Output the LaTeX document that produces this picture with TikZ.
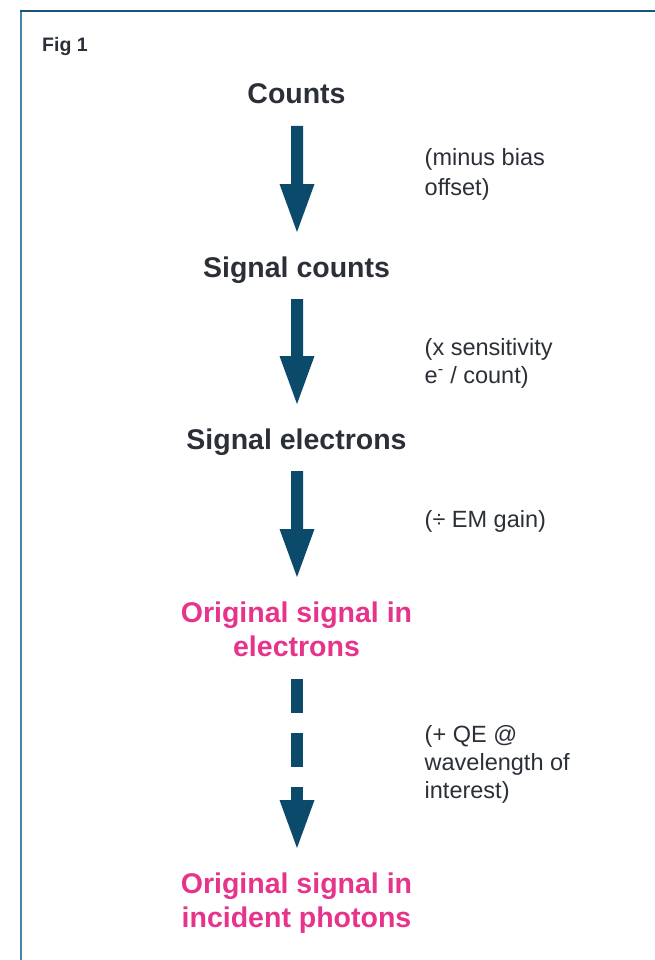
\documentclass[tikz,border=0pt]{standalone}
\usepackage{fontspec}
\setmainfont{Liberation Sans}
\usetikzlibrary{calc}
\definecolor{txtc}{HTML}{2B2F38}
\definecolor{pinkc}{HTML}{E6338B}
\definecolor{arrowc}{HTML}{0C4A6B}
\definecolor{topc}{HTML}{17557E}
\definecolor{leftc}{HTML}{4A82AC}
\tikzset{
  steplabel/.style={inner sep=0pt, anchor=base, text=txtc, font=\bfseries\fontsize{28.5}{34}\selectfont},
  pinklabel/.style={inner sep=0pt, anchor=base, text=pinkc, font=\bfseries\fontsize{28.5}{34}\selectfont},
  notelabel/.style={inner sep=0pt, anchor=base west, text=txtc, font=\fontsize{23.5}{28.5}\selectfont},
  figlabel/.style={inner sep=0pt, anchor=base west, text=txtc, font=\bfseries\fontsize{19.5}{23}\selectfont},
  blockarrow/.style={to path={
    let \p1=(\tikztostart), \p2=(\tikztotarget) in
    (\x1-6pt,\y1) -- (\x1+6pt,\y1) -- (\x1+6pt,\y2+48pt) -- (\x1+17.5pt,\y2+48pt)
    -- (\x2,\y2) -- (\x1-17.5pt,\y2+48pt) -- (\x1-6pt,\y2+48pt) -- cycle}},
  dashshaft/.style={draw=arrowc, line width=12pt, dash pattern=on 33.5pt off 20.5pt}
}
\begin{document}
\begin{tikzpicture}[x=1pt,y=1pt]
\useasboundingbox (0,0) rectangle (655,-960);
% frame
\draw[leftc, line width=2pt] (21,-960) -- (21,-11.5);
\draw[topc, line width=2pt] (20,-11.5) -- (655,-11.5);

\node[figlabel] (fig) at (42,-52) {Fig 1};

\node[steplabel] (counts) at (296.5,-104) {Counts};
\node[steplabel] (sigcounts) at (296.5,-277) {Signal counts};
\node[steplabel] (sigel) at (296.5,-449) {Signal electrons};
\node[pinklabel] (orig1a) at (296.5,-622) {Original signal in};
\node[pinklabel] (orig1b) at (296.5,-656) {electrons};
\node[pinklabel] (orig2a) at (296.5,-893) {Original signal in};
\node[pinklabel] (orig2b) at (296.5,-927) {incident photons};

\node[notelabel] (n1a) at (424.5,-166) {(minus bias};
\node[notelabel] (n1b) at (424.5,-195) {offset)};
\node[notelabel] (n2a) at (424.5,-355) {(x sensitivity};
\node[notelabel] (n2b) at (424.5,-383.5) {e\textsuperscript{-} / count)};
\node[notelabel] (n3) at (424.5,-527) {(÷ EM gain)};
\node[notelabel] (n4a) at (424.5,-742) {(+ QE @};
\node[notelabel] (n4b) at (424.5,-770) {wavelength of};
\node[notelabel] (n4c) at (424.5,-798) {interest)};

% arrows
\coordinate (a1s) at ($(counts.base)+(0.5,-22)$);
\coordinate (a1t) at ($(sigcounts.base)+(0.5,45)$);
\coordinate (a2s) at ($(sigcounts.base)+(0.5,-22)$);
\coordinate (a2t) at ($(sigel.base)+(0.5,45)$);
\coordinate (a3s) at ($(sigel.base)+(0.5,-22)$);
\coordinate (a3t) at ($(orig1a.base)+(0.5,45)$);
\coordinate (a4s) at ($(orig1b.base)+(0.5,-23)$);
\coordinate (a4t) at ($(orig2a.base)+(0.5,45)$);

\fill[arrowc] (a1s) to[blockarrow] (a1t);
\fill[arrowc] (a2s) to[blockarrow] (a2t);
\fill[arrowc] (a3s) to[blockarrow] (a3t);
\path[dashshaft] (a4s) -- ($(a4t)+(0,48.5)$);
\fill[arrowc] ($(a4t)+(-17.5,48)$) -- (a4t) -- ($(a4t)+(17.5,48)$) -- cycle;
\end{tikzpicture}
\end{document}
